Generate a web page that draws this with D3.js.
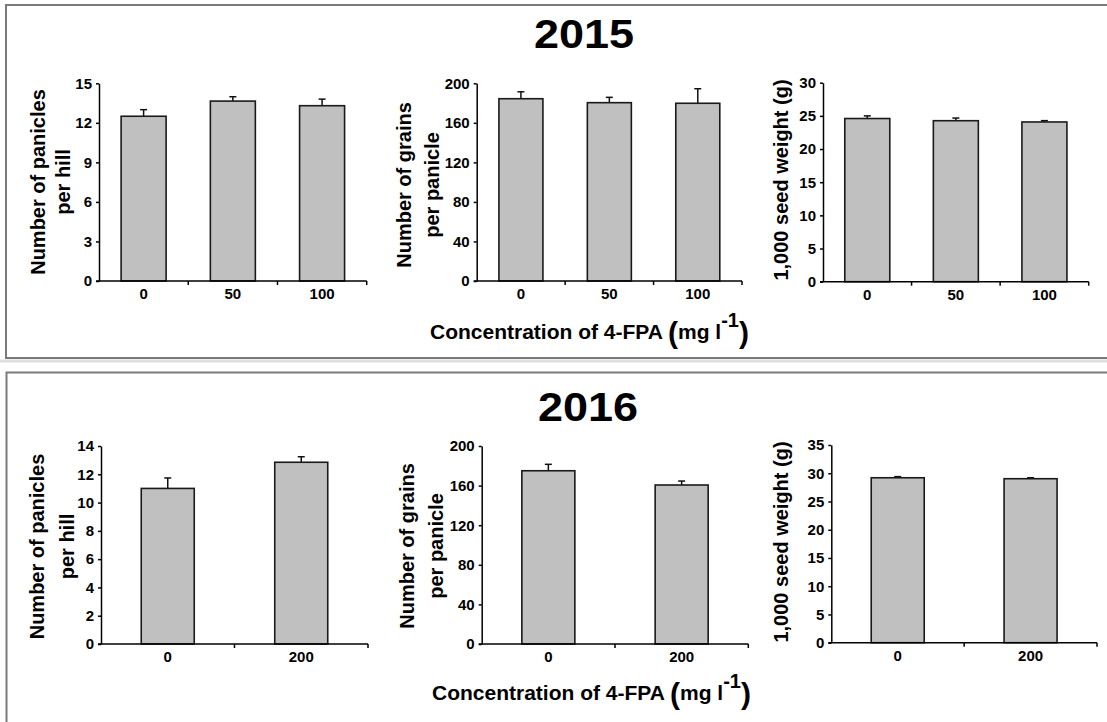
<!DOCTYPE html>
<html>
<head>
<meta charset="utf-8">
<script src="https://cdn.jsdelivr.net/npm/d3@7"></script>
<style>
  html, body { margin: 0; padding: 0; background: #fff; }
  svg { display: block; font-family: "Liberation Sans", Arial, Helvetica, sans-serif; }
</style>
</head>
<body>
<svg id="fig" width="1107" height="722"></svg>
<script>
// ---- data ----
const cats2015 = ["0", "50", "100"];
const cats2016 = ["0", "200"];

const panicles2015 = [12.5, 13.65, 13.3];
const panicles2015Err = [0.5, 0.33, 0.5];
const grains2015 = [184.4, 180.4, 179.8];
const grains2015Err = [7.0, 5.4, 14.7];
const seed2015 = [24.6, 24.27, 24.08];
const seed2015Err = [0.4, 0.4, 0.2];

const panicles2016 = [11.0, 12.85];
const panicles2016Err = [0.74, 0.39];
const grains2016 = [175.0, 160.6];
const grains2016Err = [6.5, 4.0];
const seed2016 = [29.2, 29.03];
const seed2016Err = [0.2, 0.17];

const ticksPanicles2015 = [0, 3, 6, 9, 12, 15];
const ticksGrains = [0, 40, 80, 120, 160, 200];
const ticksSeed2015 = [0, 5, 10, 15, 20, 25, 30];
const ticksPanicles2016 = [0, 2, 4, 6, 8, 10, 12, 14];
const ticksSeed2016 = [0, 5, 10, 15, 20, 25, 30, 35];

const yLabelPanicles = ["Number of panicles", "per hill"];
const yLabelGrains = ["Number of grains", "per panicle"];
const yLabelSeed = ["1,000 seed weight (g)"];

const svg = d3.select("#fig");
svg.append("rect").attr("width", 1107).attr("height", 722).attr("fill", "#fff");

// panel frames (they run off the right and bottom edges)
svg.append("rect").attr("x", 6).attr("y", 5).attr("width", 1120).attr("height", 353)
  .attr("fill", "none").attr("stroke", "#7a7a7a").attr("stroke-width", 2);
svg.append("rect").attr("x", 0).attr("y", 359.5).attr("width", 1107).attr("height", 3)
  .attr("fill", "#dedede");
svg.append("rect").attr("x", 6.5).attr("y", 372.5).attr("width", 1120).attr("height", 420)
  .attr("fill", "none").attr("stroke", "#7a7a7a").attr("stroke-width", 2);

// year titles
function title(txt, cx, base) {
  svg.append("text").attr("x", cx).attr("y", base)
    .attr("text-anchor", "middle").attr("font-size", 40).attr("font-weight", "bold")
    .attr("textLength", 100).attr("lengthAdjust", "spacingAndGlyphs")
    .text(txt);
}
title("2015", 584, 48);
title("2016", 588, 421);

// shared x-axis title with large parentheses and superscript
function xTitle(x, base) {
  const t = svg.append("text").attr("x", x).attr("y", base)
    .attr("font-weight", "bold").attr("font-size", 21);
  t.append("tspan").text("Concentration of 4-FPA ");
  t.append("tspan").attr("font-size", 30).attr("y", base + 4).text("(");
  t.append("tspan").attr("y", base).text("mg l");
  t.append("tspan").attr("font-size", 20).attr("y", base - 12).text("-1");
  t.append("tspan").attr("font-size", 30).attr("y", base + 4).text(")");
}
xTitle(430, 339);
xTitle(432, 700);

function drawChart(cfg) {
  const g = svg.append("g");
  const y = d3.scaleLinear().domain([0, d3.max(cfg.ticks)]).range([cfg.yBase, cfg.yTop]);
  const x = d3.scaleBand().domain(cfg.cats).range([cfg.x0, cfg.x1]);
  const data = cfg.cats.map((c, i) => ({ c, v: cfg.vals[i], e: cfg.errs[i] }));

  // error bars (upper only)
  const eb = g.selectAll(".eb").data(data).join("g");
  eb.append("line")
    .attr("x1", d => x(d.c) + x.bandwidth() / 2).attr("x2", d => x(d.c) + x.bandwidth() / 2)
    .attr("y1", d => y(d.v)).attr("y2", d => y(d.v + d.e))
    .attr("stroke", "#111").attr("stroke-width", 1.5);
  eb.append("line")
    .attr("x1", d => x(d.c) + x.bandwidth() / 2 - 3.5).attr("x2", d => x(d.c) + x.bandwidth() / 2 + 3.5)
    .attr("y1", d => y(d.v + d.e)).attr("y2", d => y(d.v + d.e))
    .attr("stroke", "#111").attr("stroke-width", 1.5);

  // bars
  g.selectAll(".bar").data(data).join("rect")
    .attr("x", d => x(d.c) + (x.bandwidth() - cfg.barW) / 2)
    .attr("width", cfg.barW)
    .attr("y", d => y(d.v))
    .attr("height", d => y(0) - y(d.v))
    .attr("fill", "#c0c0c0").attr("stroke", "#1a1a1a").attr("stroke-width", 1.6);

  // y axis
  const ya = g.append("g").attr("transform", `translate(${cfg.x0},0)`)
    .call(d3.axisLeft(y).tickValues(cfg.ticks).tickSize(3).tickSizeOuter(0).tickPadding(4));
  ya.selectAll("path,line").attr("stroke", "#000").attr("stroke-width", 1.5);
  ya.selectAll("text").attr("font-size", 15).attr("font-weight", "bold").attr("fill", "#000")
    .attr("font-family", "Liberation Sans, Arial, sans-serif");

  // x axis: labels at band centres, ticks at band boundaries
  const xa = g.append("g").attr("transform", `translate(0,${cfg.yBase})`)
    .call(d3.axisBottom(x).tickSize(0).tickSizeOuter(0).tickPadding(7.5));
  xa.select(".domain").attr("stroke", "#000").attr("stroke-width", 1.5)
    .attr("d", `M${cfg.x0 - 3},0H${cfg.x1}`);
  xa.selectAll("text").attr("font-size", 15).attr("font-weight", "bold").attr("fill", "#000")
    .attr("font-family", "Liberation Sans, Arial, sans-serif");
  const bounds = cfg.cats.map(c => x(c) + x.bandwidth());
  xa.selectAll(".btick").data(bounds).join("line")
    .attr("x1", d => d).attr("x2", d => d).attr("y1", 0).attr("y2", 4)
    .attr("stroke", "#000").attr("stroke-width", 1.5);

  // y axis title
  cfg.label.forEach((line, i) => {
    g.append("text")
      .attr("transform", `translate(${cfg.labelBase[i]},${cfg.labelCy}) rotate(-90)`)
      .attr("text-anchor", "middle").attr("font-size", 20).attr("font-weight", "bold")
      .text(line);
  });
}

drawChart({ cats: cats2015, vals: panicles2015, errs: panicles2015Err, ticks: ticksPanicles2015,
  x0: 99, x1: 366.7, yTop: 83.3, yBase: 281, barW: 45,
  label: yLabelPanicles, labelBase: [45, 69.5], labelCy: 182 });
drawChart({ cats: cats2015, vals: grains2015, errs: grains2015Err, ticks: ticksGrains,
  x0: 476.7, x1: 742, yTop: 83.3, yBase: 281, barW: 44,
  label: yLabelGrains, labelBase: [410.7, 439], labelCy: 185 });
drawChart({ cats: cats2015, vals: seed2015, errs: seed2015Err, ticks: ticksSeed2015,
  x0: 823, x1: 1088.7, yTop: 82.7, yBase: 281.7, barW: 45,
  label: yLabelSeed, labelBase: [788], labelCy: 180 });

drawChart({ cats: cats2016, vals: panicles2016, errs: panicles2016Err, ticks: ticksPanicles2016,
  x0: 101, x1: 368, yTop: 446, yBase: 644, barW: 53,
  label: yLabelPanicles, labelBase: [44, 73.5], labelCy: 546.5 });
drawChart({ cats: cats2016, vals: grains2016, errs: grains2016Err, ticks: ticksGrains,
  x0: 481.7, x1: 748.3, yTop: 446, yBase: 644, barW: 53,
  label: yLabelGrains, labelBase: [414, 442.5], labelCy: 546 });
drawChart({ cats: cats2016, vals: seed2016, errs: seed2016Err, ticks: ticksSeed2016,
  x0: 831.3, x1: 1097, yTop: 445, yBase: 642.7, barW: 53,
  label: yLabelSeed, labelBase: [788], labelCy: 542 });
</script>
</body>
</html>
